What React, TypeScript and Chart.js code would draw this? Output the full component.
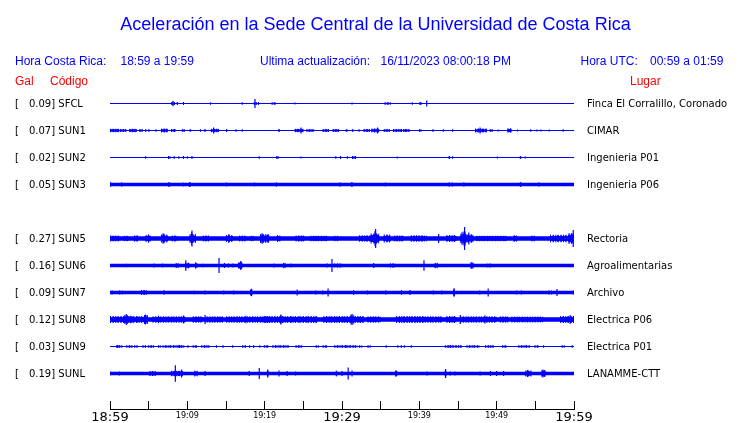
import React, { useEffect, useRef } from "react";
import { Chart, registerables } from "chart.js";

Chart.register(...registerables);

// ---------- texts ----------
const TITLE = "Aceleración en la Sede Central de la Universidad de Costa Rica";
const localTime = ["Hora Costa Rica:", "18:59 a 19:59"];
const lastUpdate = ["Ultima actualización:", "16/11/2023 08:00:18 PM"];
const utcTime = ["Hora UTC:", "00:59 a 01:59"];
const columnHeads = ["Gal", "Código", "Lugar"];

// ---------- stations ----------
const stations = ["SFCL", "SUN1", "SUN2", "SUN3", "SUN5", "SUN6", "SUN7", "SUN8", "SUN9", "SUNL"];
const peakGal = [0.09, 0.07, 0.02, 0.05, 0.27, 0.16, 0.09, 0.12, 0.03, 0.19];
const places = [
  "Finca El Corralillo, Coronado",
  "CIMAR",
  "Ingenieria P01",
  "Ingenieria P06",
  "Rectoria",
  "Agroalimentarias",
  "Archivo",
  "Electrica P06",
  "Electrica P01",
  "LANAMME-CTT",
];
// trace slot (SUN4 slot is empty)
const traceSlot = [0, 1, 2, 3, 5, 6, 7, 8, 9, 10];

// x axis: minutes after 18:59
const timeLabels = ["18:59", "19:09", "19:19", "19:29", "19:39", "19:49", "19:59"];
const timeLabelMinutes = [0, 10, 20, 30, 40, 50, 60];
const majorLabel = [true, false, false, true, false, false, true];
const tickMinutes = [0, 5, 10, 15, 20, 25, 30, 35, 40, 45, 50, 55, 60];

// background noise half-amplitude of each trace
const baseHalf = [0.5, 0.5, 0.5, 1.75, 2.3, 1.75, 1.75, 2.2, 0.5, 1.75];

// bursts: [startMinute, endMinute, halfAmplitude]
const burstsSFCL = [[7.9, 8.4, 1.5], [18.6, 19.0, 1.5], [20.9, 21.4, 1.2], [35.5, 36.3, 1.2], [40.0, 40.25, 1.2]];
const burstsSUN1 = [
  [0, 1.2, 1.7], [1.3, 2.1, 1.5], [2.5, 3.45, 1.7], [3.8, 4.2, 1.5], [4.55, 4.7, 1.3], [4.95, 5.1, 1.3],
  [5.9, 6.0, 1.3], [6.6, 7.5, 2], [7.9, 8.5, 1.5], [9.3, 9.7, 1.3], [10.3, 10.5, 1.3], [12.2, 12.4, 1.3],
  [13.05, 14.1, 1.8], [15.0, 15.2, 1.3], [21.8, 21.95, 1.3], [23.9, 25.0, 1.7], [25.4, 26.4, 1.3],
  [27.5, 28.3, 1.5], [28.8, 29.6, 1.5], [30.5, 30.75, 1.3], [31.3, 31.5, 1.3], [32.8, 33.6, 1.5],
  [33.8, 34.8, 2], [35.4, 36.2, 1.3], [36.6, 37.6, 1.5], [37.9, 38.8, 1.3], [39.95, 40.3, 1.3],
  [41.7, 41.9, 1.2], [47.2, 48.7, 2], [49.1, 49.5, 1.3], [51.4, 51.9, 2.2],
];
const burstsSUN2 = [[7.5, 7.85, 1.5], [21.5, 21.85, 1.5], [31.3, 31.8, 1.5], [43.8, 44.0, 1.5], [53.0, 53.2, 1.5]];
const burstsSUN3 = [
  [-0.1, 0.15, 2.3], [1.45, 1.65, 2.3], [7.55, 7.85, 2.5], [9.4, 9.6, 2], [10.2, 10.45, 2.5], [15.0, 15.2, 2],
  [18.6, 18.8, 2], [21.45, 21.65, 2.3], [29.7, 29.9, 2.3], [31.2, 31.4, 2.3], [35.55, 35.75, 1.9],
  [43.8, 44.0, 2.3], [44.2, 44.4, 2.3], [45.7, 45.9, 2.3], [53.0, 53.25, 2.3], [55.4, 55.6, 2.3],
];
const burstsSUN5 = [
  [0, 1.2, 2.9], [1.8, 2.4, 2.7], [3.1, 3.6, 3.3], [4.6, 5.3, 3.6], [4.9, 5.05, 4.2], [6.6, 7.5, 4],
  [6.9, 7.1, 5], [8.0, 8.7, 3.1], [10.3, 11.1, 4.5], [10.5, 10.7, 6.5], [12.0, 12.8, 3.1], [15.0, 15.9, 3.5],
  [15.3, 15.5, 4.5], [16.7, 17.6, 2.9], [18.2, 18.6, 2.8], [19.4, 20.6, 4.5], [19.6, 19.8, 5.5],
  [21.6, 22.0, 3.5], [24.0, 25.1, 3.1], [25.9, 28.1, 2.8], [29.0, 29.5, 2.7], [32.2, 33.7, 3.3],
  [33.7, 34.8, 5], [34.2, 34.5, 7.5], [35.4, 36.3, 4], [36.7, 38.0, 3.1], [38.9, 40.6, 3.2], [40.6, 41.0, 2.9],
  [43.5, 44.8, 3.5], [45.3, 47.0, 4.5], [45.6, 46.0, 7], [47.4, 51.3, 2.8], [52.2, 52.6, 3.5],
  [54.5, 54.9, 3.1], [56.9, 60, 3.8], [59.3, 60, 5.5],
];
const burstsSUN6 = [
  [8.5, 8.9, 2.5], [9.7, 10.3, 3], [11.0, 11.3, 3.2], [16.6, 17.1, 3.5], [22.4, 22.75, 2.8], [29.0, 30.0, 2.2],
  [36.2, 36.9, 2.3], [42.0, 42.4, 2.8], [46.6, 47.0, 3], [48.7, 49.4, 2.1],
];
const burstsSUN7 = [[1.2, 1.6, 2.3], [4.0, 4.75, 2.5], [18.1, 18.45, 3], [35.6, 35.9, 2.3], [44.4, 44.6, 3.5], [56.7, 57.1, 2.3]];
const burstsSUN8 = [
  [0, 4.4, 3.4], [1.85, 2.3, 4.5], [2.6, 3.0, 3.8], [4.4, 4.9, 4.5], [5.5, 9.8, 3.2], [6.2, 6.5, 3.8],
  [10.7, 12.0, 3.2], [12.5, 14.6, 3.3], [15.0, 20.7, 3.2], [17.5, 17.8, 3.8], [19.9, 26.8, 3.5], [22.0, 22.3, 4.5],
  [27.6, 32.8, 3.5], [31.1, 31.5, 5], [33.3, 35.0, 3.2], [37.0, 40.7, 3.4], [40.7, 43.0, 3.2], [43.5, 44.8, 3.6],
  [45.3, 50.0, 3.2], [50.4, 51.5, 3.2], [51.9, 56.0, 3], [58.2, 60, 3.6],
];
const burstsSUN9 = [
  [0.8, 1.6, 1.2], [2.1, 2.9, 1.2], [3.1, 3.55, 1.2], [4.2, 4.65, 1.2], [4.9, 5.7, 1.2], [6.2, 6.6, 1.2],
  [6.8, 9.6, 1.2], [10.0, 10.25, 1.2], [10.7, 11.3, 1.2], [11.8, 12.85, 1.2], [13.7, 13.85, 1.2],
  [14.55, 14.7, 1.2], [15.8, 15.95, 1.2], [17.1, 17.6, 1.2], [18.0, 18.15, 1.2], [18.5, 18.7, 1.2],
  [19.3, 19.45, 1.2], [19.9, 20.5, 1.2], [21.0, 23.1, 1.2], [24.0, 24.9, 1.2], [26.6, 27.0, 1.2],
  [27.5, 28.1, 1.2], [29.0, 32.0, 1.2], [32.2, 32.6, 1.2], [33.3, 33.7, 1.2], [35.65, 35.8, 1.2],
  [37.15, 37.3, 1.2], [37.6, 37.75, 1.2], [38.0, 38.15, 1.2], [38.9, 39.05, 1.2], [43.3, 45.5, 1.2],
  [46.1, 47.8, 1.2], [48.5, 49.6, 1.2], [50.7, 51.3, 1.2], [52.8, 54.3, 1.2], [54.9, 55.4, 1.2],
  [56.0, 56.15, 1.2], [58.4, 58.8, 1.2], [59.7, 59.85, 1.2],
];
const burstsSUNL = [
  [5.1, 5.9, 2.5], [7.9, 9.4, 2.8], [10.9, 11.3, 3], [20.3, 20.5, 3.5], [29.2, 29.4, 3], [36.9, 37.15, 3.5],
  [43.3, 43.5, 3.5], [53.7, 54.5, 3], [55.8, 56.3, 3.5],
];

// spikes: [minute, halfAmplitude]
const spikesSFCL = [[8.15, 2.7], [8.7, 1.5], [9.5, 1.5], [13.0, 1.3], [17.1, 1.3], [18.75, 4.5], [19.2, 1.5], [23.9, 1], [31.3, 1], [39.1, 1.2], [40.2, 1.5], [40.95, 3]];
const spikesSUN1 = [[11.7, 1.3], [13.4, 3], [16.3, 1.2], [17.1, 1.2], [21.85, 1.3], [24.7, 3], [32.2, 1.3], [34.6, 3], [37.7, 1.5], [38.2, 1.5], [43.1, 1.2], [44.3, 1.2], [47.85, 3], [50.2, 1], [52.7, 1], [54.4, 1.2], [55.2, 1], [55.7, 1], [56.8, 1], [58.6, 1.2]];
const spikesSUN2 = [[4.6, 1.3], [8.3, 1.3], [8.9, 1.3], [9.5, 1.5], [10.0, 1.3], [10.6, 1.5], [19.3, 1.3], [24.7, 1], [29.2, 1.2], [29.8, 1.5], [30.7, 1.3], [37.15, 1], [44.3, 1.3], [50.1, 1], [53.7, 1]];
const spikesSUN3 = [[0, 2.3], [10.3, 2.5], [31.3, 2.3], [53.1, 2.3]];
const spikesSUN5 = [[6.85, 5], [10.6, 8], [34.35, 9.5], [42.5, 4.5], [45.5, 6], [45.85, 11.5], [46.4, 6], [59.9, 8.5]];
const spikesSUN6 = [[2.1, 1.8], [5.7, 2], [6.8, 2], [9.8, 5.3], [12.0, 1.8], [14.1, 7.5], [14.8, 2.5], [15.3, 2], [15.9, 2], [16.9, 4.5], [21.2, 2], [23.4, 2], [28.1, 2], [28.7, 6.5], [34.1, 2.5], [40.6, 5.3], [46.8, 3.5]];
const spikesSUN7 = [[0.26, 2], [7.0, 2.3], [10.9, 1.8], [12.3, 2], [14.7, 2], [16.0, 2], [18.3, 3.8], [24.2, 3], [26.6, 2], [27.5, 2], [28.2, 4], [31.5, 2.3], [33.3, 2], [37.7, 2.3], [38.8, 2.5], [41.8, 2], [42.9, 2], [44.5, 4.3], [47.8, 2], [48.9, 4], [52.6, 2], [53.2, 2], [57.8, 3.5], [59.9, 2]];
const spikesSUN8 = [[2.1, 5.5], [4.6, 5], [9.5, 4], [12.3, 4.5], [22.1, 5], [31.3, 5.5], [45.3, 4.5], [48.5, 4], [59.5, 4.5]];
const spikesSUN9 = [[1.0, 1.5], [9.0, 1.5], [30.5, 1.5], [44.0, 1.5]];
const spikesSUNL = [[0, 2], [1.2, 2], [8.45, 8.3], [9.25, 4], [12.3, 2.5], [18.0, 2.5], [19.3, 5.5], [20.4, 4], [21.85, 3], [22.9, 2.5], [24.0, 2], [30.0, 2.5], [30.8, 6], [31.3, 3], [41.0, 2], [43.4, 4.5], [44.0, 2], [44.6, 2], [47.85, 2], [49.2, 2.5], [50.0, 2.5], [50.9, 2.5], [54.0, 3.5], [56.0, 4]];

const bursts = [burstsSFCL, burstsSUN1, burstsSUN2, burstsSUN3, burstsSUN5, burstsSUN6, burstsSUN7, burstsSUN8, burstsSUN9, burstsSUNL];
const spikes = [spikesSFCL, spikesSUN1, spikesSUN2, spikesSUN3, spikesSUN5, spikesSUN6, spikesSUN7, spikesSUN8, spikesSUN9, spikesSUNL];

// ---------- styling / layout ----------
const BLUE = "#0000ff";
const RED = "#ff0000";
const ROW = 27;
const HEAD_FONT = '"Liberation Sans", Arial, Helvetica, sans-serif';
const ROW_FONT = '"DejaVu Sans", Verdana, sans-serif';
const CORE_RATIO = 0.68; // solid core of a burst, the rest is drawn as a comb of wiggles

function centerOf(i: number) {
  return traceSlot[i] * ROW;
}

function buildDatasets() {
  const ds: any[] = [];
  const common = {
    borderColor: BLUE,
    pointRadius: 0,
    tension: 0,
    spanGaps: false,
    borderCapStyle: "butt",
    fill: false,
  };
  // base noise band
  stations.forEach((_, i) => {
    const c = centerOf(i);
    ds.push({ ...common, data: [{ x: 0, y: c }, { x: 60, y: c }], borderWidth: baseHalf[i] * 2 });
  });
  // bursts grouped by amplitude
  const groups = new Map<number, any[]>();
  bursts.forEach((list, i) => {
    const c = centerOf(i);
    list.forEach(([t0, t1, h]) => {
      if (!groups.has(h)) groups.set(h, []);
      groups.get(h)!.push({ x: Math.max(0, t0), y: c }, { x: Math.min(60, t1), y: c }, { x: Math.min(60, t1), y: null });
    });
  });
  groups.forEach((pts, h) => {
    // solid core
    ds.push({ ...common, data: pts, borderWidth: Math.max(1, h * 2 * CORE_RATIO) });
    // jagged fringe (comb)
    ds.push({ ...common, data: pts, borderWidth: h * 2, borderDash: [1, 1.6] });
    ds.push({ ...common, data: pts, borderWidth: h * 1.7, borderDash: [1.3, 2.7], borderDashOffset: 1.2 });
  });
  // spikes
  const sp: any[] = [];
  spikes.forEach((list, i) => {
    const c = centerOf(i);
    list.forEach(([t, h]) => {
      sp.push({ x: t, y: c - h }, { x: t, y: c + h }, { x: t, y: null });
    });
  });
  ds.push({ ...common, data: sp, borderWidth: 1.2 });
  return ds;
}

const textPlugin = {
  id: "seismoText",
  afterDraw(chart: any) {
    const ctx = chart.ctx as CanvasRenderingContext2D;
    const xs = chart.scales.x;
    const ys = chart.scales.y;
    ctx.save();
    ctx.textBaseline = "alphabetic";

    // title
    ctx.fillStyle = BLUE;
    ctx.font = `18px ${HEAD_FONT}`;
    ctx.textAlign = "center";
    ctx.fillText(TITLE, 375.5, 30);

    // header line
    ctx.font = `12px ${HEAD_FONT}`;
    ctx.textAlign = "left";
    ctx.fillText(localTime[0], 15, 65);
    ctx.fillText(localTime[1], 120.5, 65);
    ctx.fillText(lastUpdate[0], 260, 65);
    ctx.fillText(lastUpdate[1], 380.5, 65);
    ctx.fillText(utcTime[0], 580.5, 65);
    ctx.fillText(utcTime[1], 650, 65);

    ctx.fillStyle = RED;
    ctx.fillText(columnHeads[0], 15, 85);
    ctx.fillText(columnHeads[1], 50, 85);
    ctx.fillText(columnHeads[2], 630, 85);

    // rows
    ctx.fillStyle = "#000";
    ctx.font = `10px ${ROW_FONT}`;
    stations.forEach((s, i) => {
      const y = ys.getPixelForValue(centerOf(i)) + 3.4;
      ctx.textAlign = "left";
      ctx.fillText("[", 15, y);
      ctx.textAlign = "right";
      ctx.fillText(peakGal[i].toFixed(2), 51.2, y);
      ctx.textAlign = "left";
      ctx.fillText("] " + s, 51.2, y);
      ctx.fillText(places[i], 587, y);
    });

    // time axis
    const yAxis = 409.5;
    ctx.strokeStyle = "#000";
    ctx.lineWidth = 1;
    ctx.beginPath();
    ctx.moveTo(xs.getPixelForValue(0), yAxis);
    ctx.lineTo(xs.getPixelForValue(60) + 1, yAxis);
    tickMinutes.forEach((m) => {
      const x = Math.floor(xs.getPixelForValue(m)) + 0.5;
      ctx.moveTo(x, yAxis);
      ctx.lineTo(x, 401);
    });
    ctx.stroke();

    ctx.fillStyle = "#000";
    ctx.textAlign = "center";
    timeLabels.forEach((lab, k) => {
      const x = xs.getPixelForValue(timeLabelMinutes[k]);
      if (majorLabel[k]) {
        ctx.font = `13px ${ROW_FONT}`;
        ctx.fillText(lab, x, 421);
      } else {
        ctx.font = `8px ${ROW_FONT}`;
        ctx.fillText(lab, x, 418);
      }
    });
    ctx.restore();
  },
};

export default function App() {
  const ref = useRef<HTMLCanvasElement | null>(null);
  useEffect(() => {
    document.body.style.margin = "0";
    const canvas = ref.current!;
    const chart = new Chart(canvas, {
      type: "line",
      data: { datasets: buildDatasets() },
      options: {
        responsive: false,
        animation: false,
        events: [],
        devicePixelRatio: 1,
        layout: { padding: { left: 110, right: 166, top: 0, bottom: 0 } },
        scales: {
          x: { type: "linear", min: 0, max: 60, display: false },
          y: { type: "linear", min: -103.5, max: 319.5, reverse: true, display: false },
        },
        plugins: { legend: { display: false }, tooltip: { enabled: false } },
      },
      plugins: [textPlugin],
    } as any);
    return () => chart.destroy();
  }, []);
  return (
    <div style={{ width: 740, height: 423, background: "#fff" }}>
      <canvas ref={ref} width={740} height={423} style={{ display: "block" }} />
    </div>
  );
}
